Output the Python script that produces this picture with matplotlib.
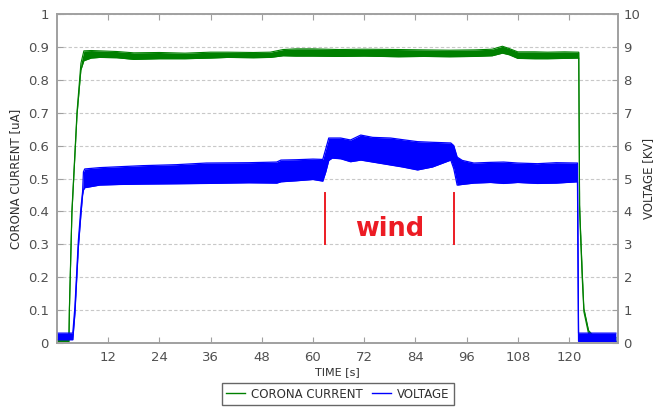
import matplotlib
matplotlib.use("Agg")
import matplotlib.pyplot as plt
from matplotlib.lines import Line2D

# ---- data ----
# Corona current [uA]: time, lower and upper envelope of the noisy trace
cur_t  = [0, 2.8, 2.9, 3.5, 4.7, 5.6, 6.3, 8, 10, 14, 18, 24, 30, 36, 40, 46, 50, 53, 56, 60, 66, 72,
          80, 86, 92, 98, 102, 104.4, 106, 108, 112, 115, 119, 122.3, 122.5, 122.7, 123.1, 123.5,
          124.6, 126, 131]
cur_lo = [0.005, 0.005, 0.095, 0.395, 0.695, 0.83, 0.858, 0.866, 0.868, 0.867, 0.862, 0.864, 0.864,
          0.866, 0.868, 0.867, 0.868, 0.873, 0.872, 0.872, 0.871, 0.872, 0.870, 0.871, 0.870, 0.871,
          0.873, 0.881, 0.876, 0.865, 0.864, 0.864, 0.865, 0.866, 0.40, 0.33, 0.20, 0.095, 0.028,
          0.006, 0.005]
cur_hi = [0.018, 0.018, 0.105, 0.405, 0.705, 0.85, 0.888, 0.889, 0.888, 0.886, 0.882, 0.883, 0.881,
          0.884, 0.884, 0.883, 0.884, 0.892, 0.894, 0.894, 0.892, 0.893, 0.892, 0.891, 0.890, 0.891,
          0.893, 0.902, 0.895, 0.885, 0.885, 0.884, 0.885, 0.884, 0.42, 0.35, 0.22, 0.105, 0.038,
          0.018, 0.017]

# Voltage [kV]: time, lower and upper envelope
volt_t  = [0, 3.7, 4.2, 5.0, 5.6, 6.0, 6.2, 6.5, 10, 15, 20, 28, 35, 45, 51.5, 52.5, 56, 60, 62.3,
           63.0, 63.7, 64.5, 66.5, 68.8, 71.2, 74, 78.2, 81, 84.5, 88, 92.3, 93.0, 93.8, 95.0, 97.7,
           101.6, 104.7, 108, 112.6, 117, 122.0, 122.25, 131]
volt_lo = [0.10, 0.10, 0.9, 2.9, 3.9, 4.5, 4.65, 4.72, 4.80, 4.82, 4.83, 4.84, 4.85, 4.87, 4.86,
           4.90, 4.93, 4.97, 4.92, 5.2, 5.55, 5.62, 5.60, 5.51, 5.56, 5.50, 5.41, 5.35, 5.26, 5.35,
           5.56, 5.30, 4.80, 4.82, 4.86, 4.88, 4.85, 4.88, 4.85, 4.86, 4.90, 0.05, 0.05]
volt_hi = [0.30, 0.30, 1.1, 3.1, 4.1, 4.6, 5.2, 5.29, 5.33, 5.36, 5.39, 5.42, 5.47, 5.48, 5.50,
           5.56, 5.57, 5.59, 5.58, 5.9, 6.23, 6.23, 6.23, 6.17, 6.32, 6.25, 6.23, 6.18, 6.12, 6.10,
           6.08, 6.00, 5.65, 5.55, 5.47, 5.49, 5.50, 5.47, 5.45, 5.48, 5.47, 0.30, 0.30]

# "wind" period markers
wind_t = [62.9, 93.1]
wind_y = [0.30, 0.456]

x_ticks = [12, 24, 36, 48, 60, 72, 84, 96, 108, 120]
y_left_ticks = [0, 0.1, 0.2, 0.3, 0.4, 0.5, 0.6, 0.7, 0.8, 0.9, 1]
y_right_ticks = [0, 1, 2, 3, 4, 5, 6, 7, 8, 9, 10]

GREEN = "#008000"
BLUE = "#0000ff"
RED = "#ec1c24"
TXT = "#505050"

fig = plt.figure(figsize=(6.54, 4.08), dpi=100)
ax = fig.add_axes([57/654, 65/408, (618-57)/654, (343-14)/408])
ax2 = ax.twinx()

# current on left axis
ax.fill_between(cur_t, cur_lo, cur_hi, color=GREEN, lw=0)
ax.plot(cur_t, cur_lo, color=GREEN, lw=0.8)
ax.plot(cur_t, cur_hi, color=GREEN, lw=0.8)

# voltage on right axis
ax2.fill_between(volt_t, volt_lo, volt_hi, color=BLUE, lw=0)
ax2.plot(volt_t, volt_lo, color=BLUE, lw=0.9)
ax2.plot(volt_t, volt_hi, color=BLUE, lw=0.9)

# wind markers
for t in wind_t:
    ax.plot([t, t], wind_y, color=RED, lw=1.4)
ax.text(sum(wind_t)/2, 0.345, "wind", color=RED, fontsize=18.5, fontweight="bold",
        ha="center", va="center")

ax.set_xlim(0, 131.5)
ax.set_ylim(0, 1)
ax2.set_ylim(0, 10)
ax.set_xticks(x_ticks)
ax.set_yticks(y_left_ticks)
ax.set_yticklabels([("%g" % v) for v in y_left_ticks])
ax2.set_yticks(y_right_ticks)

ax.grid(axis="y", color="#c8c8c8", linestyle=(0, (3, 2)), lw=0.8)
ax.set_axisbelow(True)

for a in (ax, ax2):
    for s in a.spines.values():
        s.set_color("#a0a0a0")
        s.set_linewidth(1.2)
ax.tick_params(axis="both", direction="in", length=4, color="#a0a0a0",
               labelsize=9.5, labelcolor=TXT, top=True, pad=6)
ax2.tick_params(axis="y", direction="in", length=4, color="#a0a0a0",
                labelsize=9.5, labelcolor=TXT, pad=4)

ax.set_xlabel("TIME [s]", fontsize=8, color="#303030", labelpad=2)
ax.set_ylabel("CORONA CURRENT [uA]", fontsize=8.5, color="#303030", labelpad=4)
ax2.set_ylabel("VOLTAGE [KV]", fontsize=8.5, color="#303030", labelpad=1)

handles = [Line2D([0], [0], color=GREEN, lw=1), Line2D([0], [0], color=BLUE, lw=1)]
leg = fig.legend(handles, ["CORONA CURRENT", "VOLTAGE"], ncol=2, loc="center",
                 bbox_to_anchor=(338/654, 1 - 394/408), fontsize=8.5, frameon=True,
                 fancybox=False, handlelength=1.6, handletextpad=0.5, columnspacing=0.8,
                 borderpad=0.35)
leg.get_frame().set_edgecolor("#404040")
leg.get_frame().set_linewidth(1.0)
for t in leg.get_texts():
    t.set_color("#303030")

fig.savefig("out.png", dpi=100)
